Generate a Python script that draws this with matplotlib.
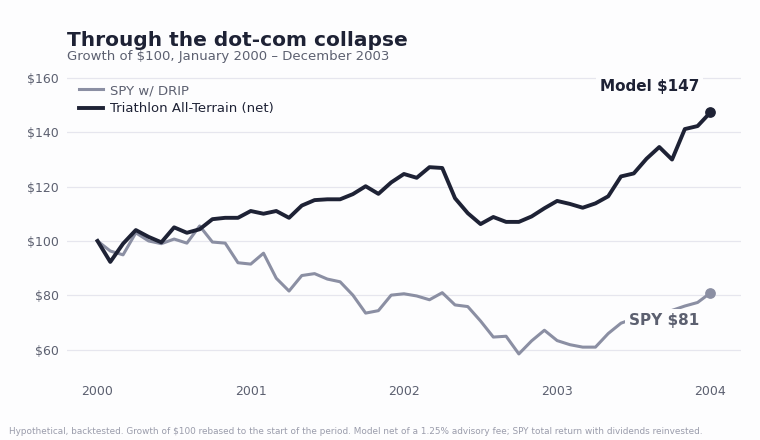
import numpy as np
import matplotlib.pyplot as plt

# growth of $100, monthly from Jan 2000 (start) to Dec 2003
years = [2000, 2001, 2002, 2003, 2004]
model = [100, 92.3, 99, 104, 101.5, 99.5, 105, 103, 104.3, 108, 108.5, 108.5,
         111, 110, 111, 108.5, 113, 115, 115.3, 115.3, 117.2, 120.1, 117.3, 121.5,
         124.6, 123.2, 127.1, 126.8, 115.7, 110.2, 106.2, 108.8, 107, 107, 109, 112,
         114.7, 113.6, 112.2, 113.8, 116.4, 123.7, 124.8, 130.2, 134.5, 129.9, 141.1, 142.2, 147.2]
spy = [100, 96.3, 94.9, 103, 100, 99, 100.7, 99.2, 105.5, 99.6, 99.2, 92,
       91.5, 95.5, 86.3, 81.6, 87.3, 88, 86, 85, 80.1, 73.5, 74.4, 80.1,
       80.6, 79.8, 78.4, 81, 76.5, 75.9, 70.6, 64.7, 65, 58.5, 63.3, 67.2,
       63.4, 61.9, 61, 61, 66, 69.8, 71.5, 73.5, 72.5, 74.5, 76.1, 77.4, 80.9]
yticks = [60, 80, 100, 120, 140, 160]

dark = '#1e2235'
gray = '#8b8fa3'
muted = '#5c6070'
bg = '#fdfdfe'

x = 2000 + np.arange(len(model)) / 12

fig = plt.figure(figsize=(7.6, 4.4), dpi=100, facecolor=bg)
ax = fig.add_axes([0.088, 0.143, 0.887, 0.693], facecolor=bg)

ax.plot(x, spy, color=gray, lw=2.2, label='SPY w/ DRIP', zorder=3)
ax.plot(x, model, color=dark, lw=2.8, label='Triathlon All-Terrain (net)', zorder=4)
ax.scatter([x[-1]], [spy[-1]], s=45, color=gray, zorder=5)
ax.scatter([x[-1]], [model[-1]], s=45, color=dark, zorder=5)

# end labels with a background box that hides lines behind them
ax.annotate(f'Model ${model[-1]:.0f}', (x[-1], model[-1]), xytext=(-8, 19),
            textcoords='offset points', ha='right', va='center', fontsize=11,
            fontweight='bold', color=dark, zorder=6,
            bbox=dict(boxstyle='square,pad=0.25', fc=bg, ec='none'))
ax.annotate(f'SPY ${spy[-1]:.0f}', (x[-1], spy[-1]), xytext=(-8, -20),
            textcoords='offset points', ha='right', va='center', fontsize=11,
            fontweight='bold', color=muted, zorder=6,
            bbox=dict(boxstyle='square,pad=0.25', fc=bg, ec='none'))

# axes styling
ax.set_xlim(1999.8, 2004.2)
ax.set_ylim(50, 162)
ax.set_xticks(years)
ax.set_xticklabels([str(y) for y in years])
ax.set_yticks(yticks)
ax.set_yticklabels([f'${v}' for v in yticks])
ax.grid(axis='y', color='#e6e6ee', lw=0.9)
ax.set_axisbelow(True)
for s in ax.spines.values():
    s.set_visible(False)
ax.tick_params(length=0, colors=muted, labelsize=9, pad=6)

ax.legend(loc='upper left', frameon=False, fontsize=9.5, labelcolor=[muted, dark],
          handlelength=1.8, handletextpad=0.55, borderaxespad=0.5, labelspacing=0.4)

# titles and footnote
fig.text(0.088, 0.908, 'Through the dot-com collapse', fontsize=14.5,
         fontweight='bold', color=dark, va='center')
fig.text(0.088, 0.872, 'Growth of $100, January 2000 – December 2003', fontsize=9.5,
         color=muted, va='center')
fig.text(0.012, 0.02, 'Hypothetical, backtested. Growth of $100 rebased to the start of the period. '
         'Model net of a 1.25% advisory fee; SPY total return with dividends reinvested.',
         fontsize=6.4, color='#9a9cab', va='center')

plt.savefig('out.png', dpi=100, facecolor=bg)
